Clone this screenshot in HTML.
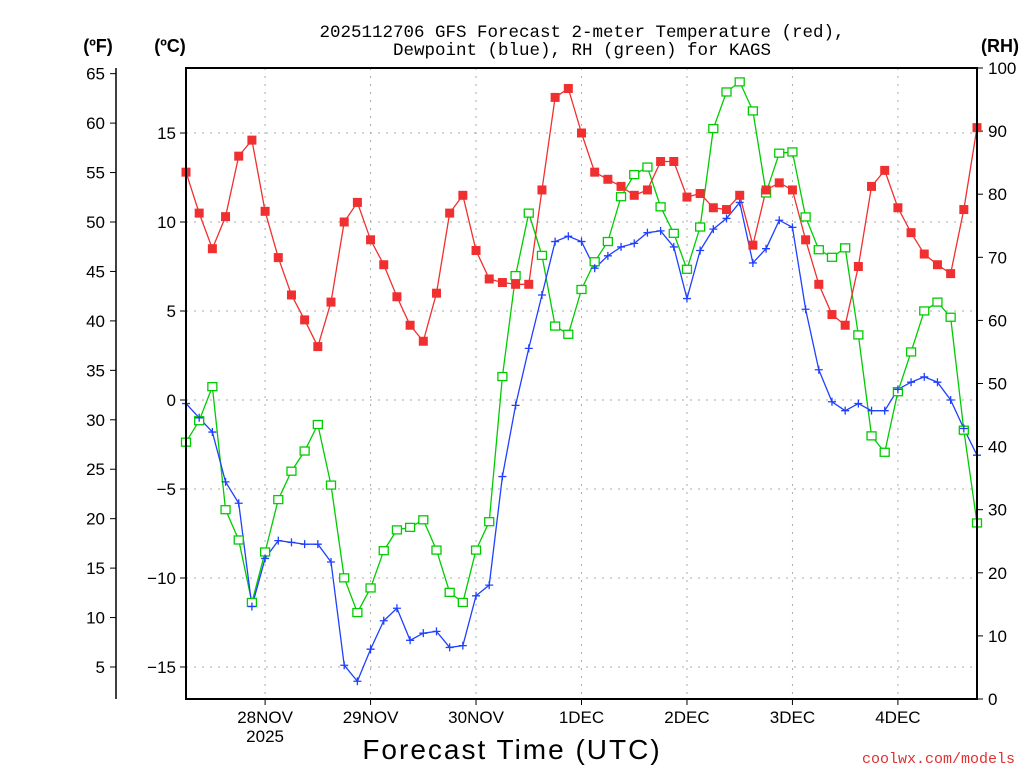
<!DOCTYPE html>
<html><head><meta charset="utf-8"><style>
body{margin:0;background:#fff;}
svg{display:block;font-family:"Liberation Sans",sans-serif;}
</style></head><body>
<svg id="chart" width="1024" height="768" viewBox="0 0 1024 768" xmlns="http://www.w3.org/2000/svg">
<text x="582" y="37" font-size="17.5" text-anchor="middle" font-family="Liberation Mono, monospace">2025112706 GFS Forecast 2-meter Temperature (red),</text>
<text x="582" y="55" font-size="17.5" text-anchor="middle" font-family="Liberation Mono, monospace">Dewpoint (blue), RH (green) for KAGS</text>
<text x="98" y="52" font-size="18" font-weight="bold" text-anchor="middle">(ºF)</text>
<text x="170" y="52" font-size="18" font-weight="bold" text-anchor="middle">(ºC)</text>
<text x="1000" y="52" font-size="18" font-weight="bold" text-anchor="middle">(RH)</text>
<g id="grid"></g>
<g id="axes"></g>
<g id="series"></g>
<rect x="186" y="68" width="791" height="631" fill="none" stroke="#000" stroke-width="2"/>
<text x="512" y="759" font-size="28" text-anchor="middle" letter-spacing="2">Forecast Time (UTC)</text>
<text x="1015" y="763" font-size="15" fill="#e03030" text-anchor="end" font-family="Liberation Mono, monospace">coolwx.com/models</text>
</svg>
<script>
const hours=[0,3,6,9,12,15,18,21,24,27,30,33,36,39,42,45,48,51,54,57,60,63,66,69,72,75,78,81,84,87,90,93,96,99,102,105,108,111,114,117,120,123,126,129,132,135,138,141,144,147,150,153,156,159,162,165,168,171,174,177,180];
const tempC=[12.8,10.5,8.5,10.3,13.7,14.6,10.6,8.0,5.9,4.5,3.0,5.5,10.0,11.1,9.0,7.6,5.8,4.2,3.3,6.0,10.5,11.5,8.4,6.8,6.6,6.5,6.5,11.8,17.0,17.5,15.0,12.8,12.4,12.0,11.5,11.8,13.4,13.4,11.4,11.6,10.8,10.7,11.5,8.7,11.8,12.2,11.8,9.0,6.5,4.8,4.2,7.5,12.0,12.9,10.8,9.4,8.2,7.6,7.1,10.7,15.3];
const dewC=[-0.2,-1.0,-1.8,-4.6,-5.8,-11.6,-8.9,-7.9,-8.0,-8.1,-8.1,-9.1,-14.9,-15.8,-14.0,-12.4,-11.7,-13.5,-13.1,-13.0,-13.9,-13.8,-11.0,-10.4,-4.3,-0.3,2.9,5.9,8.9,9.2,8.9,7.4,8.1,8.6,8.8,9.4,9.5,8.6,5.7,8.4,9.6,10.2,11.1,7.7,8.5,10.1,9.7,5.1,1.7,-0.1,-0.6,-0.2,-0.6,-0.6,0.6,1.0,1.3,1.0,0.0,-1.6,-3.1];
const rh=[40.7,44.1,49.5,30.0,25.2,15.3,23.3,31.6,36.1,39.3,43.5,33.9,19.2,13.7,17.6,23.5,26.8,27.2,28.4,23.6,16.9,15.3,23.6,28.1,51.1,67.1,77.0,70.3,59.1,57.8,64.9,69.3,72.5,79.6,83.1,84.3,78.0,73.8,68.1,74.8,90.4,96.2,97.8,93.2,80.2,86.5,86.7,76.4,71.2,70.0,71.5,57.7,41.7,39.1,48.7,55.0,61.5,62.9,60.5,42.6,27.9];
const cTicks=[15,10,5,0,-5,-10,-15];
const fTicks=[65,60,55,50,45,40,35,30,25,20,15,10,5];
const rhTicks=[100,90,80,70,60,50,40,30,20,10,0];
const dayLabels=["28NOV","29NOV","30NOV","1DEC","2DEC","3DEC","4DEC"];
const dayHours=[18,42,66,90,114,138,162];

const NS="http://www.w3.org/2000/svg";
const X0=186,X1=977,Y0=68,Y1=699;
const xS=h=>X0+h*(X1-X0)/180;
const yC=c=>400-c*17.8;
const yF=f=>yC((f-32)*5/9);
const yRH=r=>Y1-r*(Y1-Y0)/100;
function mk(tag,attrs,parent){const e=document.createElementNS(NS,tag);for(const k in attrs)e.setAttribute(k,attrs[k]);parent.appendChild(e);return e;}
const grid=document.getElementById('grid'),axes=document.getElementById('axes'),series=document.getElementById('series');

cTicks.forEach(c=>{
  const l=mk('line',{x1:X0,x2:X1,y1:yC(c),y2:yC(c),stroke:'#aaa','stroke-dasharray':'2,6'},grid);
  
  
  const t=mk('line',{x1:X0-6,x2:X0,y1:yC(c),y2:yC(c),stroke:'#000'},axes);
  
  
  const tx=mk('text',{x:X0-10,y:yC(c)+6,'font-size':17,'text-anchor':'end'},axes);
  tx.textContent=c===0?'0':(c<0?'\u2212'+(-c):String(c));
  
  
});
const fa=mk('line',{x1:116,x2:116,y1:Y0,y2:Y1,stroke:'#000','stroke-width':1.5},axes);


fTicks.forEach(f=>{
  const t=mk('line',{x1:110,x2:116,y1:yF(f),y2:yF(f),stroke:'#000'},axes);
  
  
  const tx=mk('text',{x:105,y:yF(f)+6,'font-size':17,'text-anchor':'end'},axes);
  tx.textContent=String(f);
  
  
});
rhTicks.forEach(r=>{
  const t=mk('line',{x1:X1,x2:X1+6,y1:yRH(r),y2:yRH(r),stroke:'#000'},axes);
  
  
  const tx=mk('text',{x:988,y:yRH(r)+6,'font-size':17},axes);
  tx.textContent=String(r);
  
  
});
dayHours.forEach((h,i)=>{
  const l=mk('line',{x1:xS(h),x2:xS(h),y1:Y0,y2:Y1,stroke:'#aaa','stroke-dasharray':'2,6'},grid);
  
  
  const t=mk('line',{x1:xS(h),x2:xS(h),y1:Y1,y2:Y1+6,stroke:'#000'},axes);
  
  
  const tx=mk('text',{x:xS(h),y:723,'font-size':17,'text-anchor':'middle'},axes);
  tx.textContent=dayLabels[i];
  
  
});
const yr=mk('text',{x:xS(18),y:742,'font-size':17,'text-anchor':'middle'},axes);
yr.textContent='2025';



function line(vals,yf,color,name){
  const pts=vals.map((v,i)=>xS(hours[i])+','+yf(v)).join(' ');
  const p=mk('polyline',{points:pts,fill:'none',stroke:color,'stroke-width':1.3},series);
  
  
}
line(rh,yRH,'#00cc00','rh');
line(dewC,yC,'#2040ff','dewpoint');
line(tempC,yC,'#f03030','temperature');
rh.forEach((v,i)=>{
  const m=mk('rect',{x:xS(hours[i])-4.5,y:yRH(v)-4,width:9,height:8,fill:'#fff',stroke:'#00cc00','stroke-width':1.3},series);
  
  
});
dewC.forEach((v,i)=>{
  const x=xS(hours[i]),y=yC(v);
  const m=mk('path',{d:`M${x-4},${y}H${x+4}M${x},${y-4}V${y+4}`,stroke:'#2040ff','stroke-width':1.3},series);
  
  
});
tempC.forEach((v,i)=>{
  const m=mk('rect',{x:xS(hours[i])-4.5,y:yC(v)-4.5,width:9,height:9,fill:'#f03030'},series);
  
  
});
</script>
</body></html>
